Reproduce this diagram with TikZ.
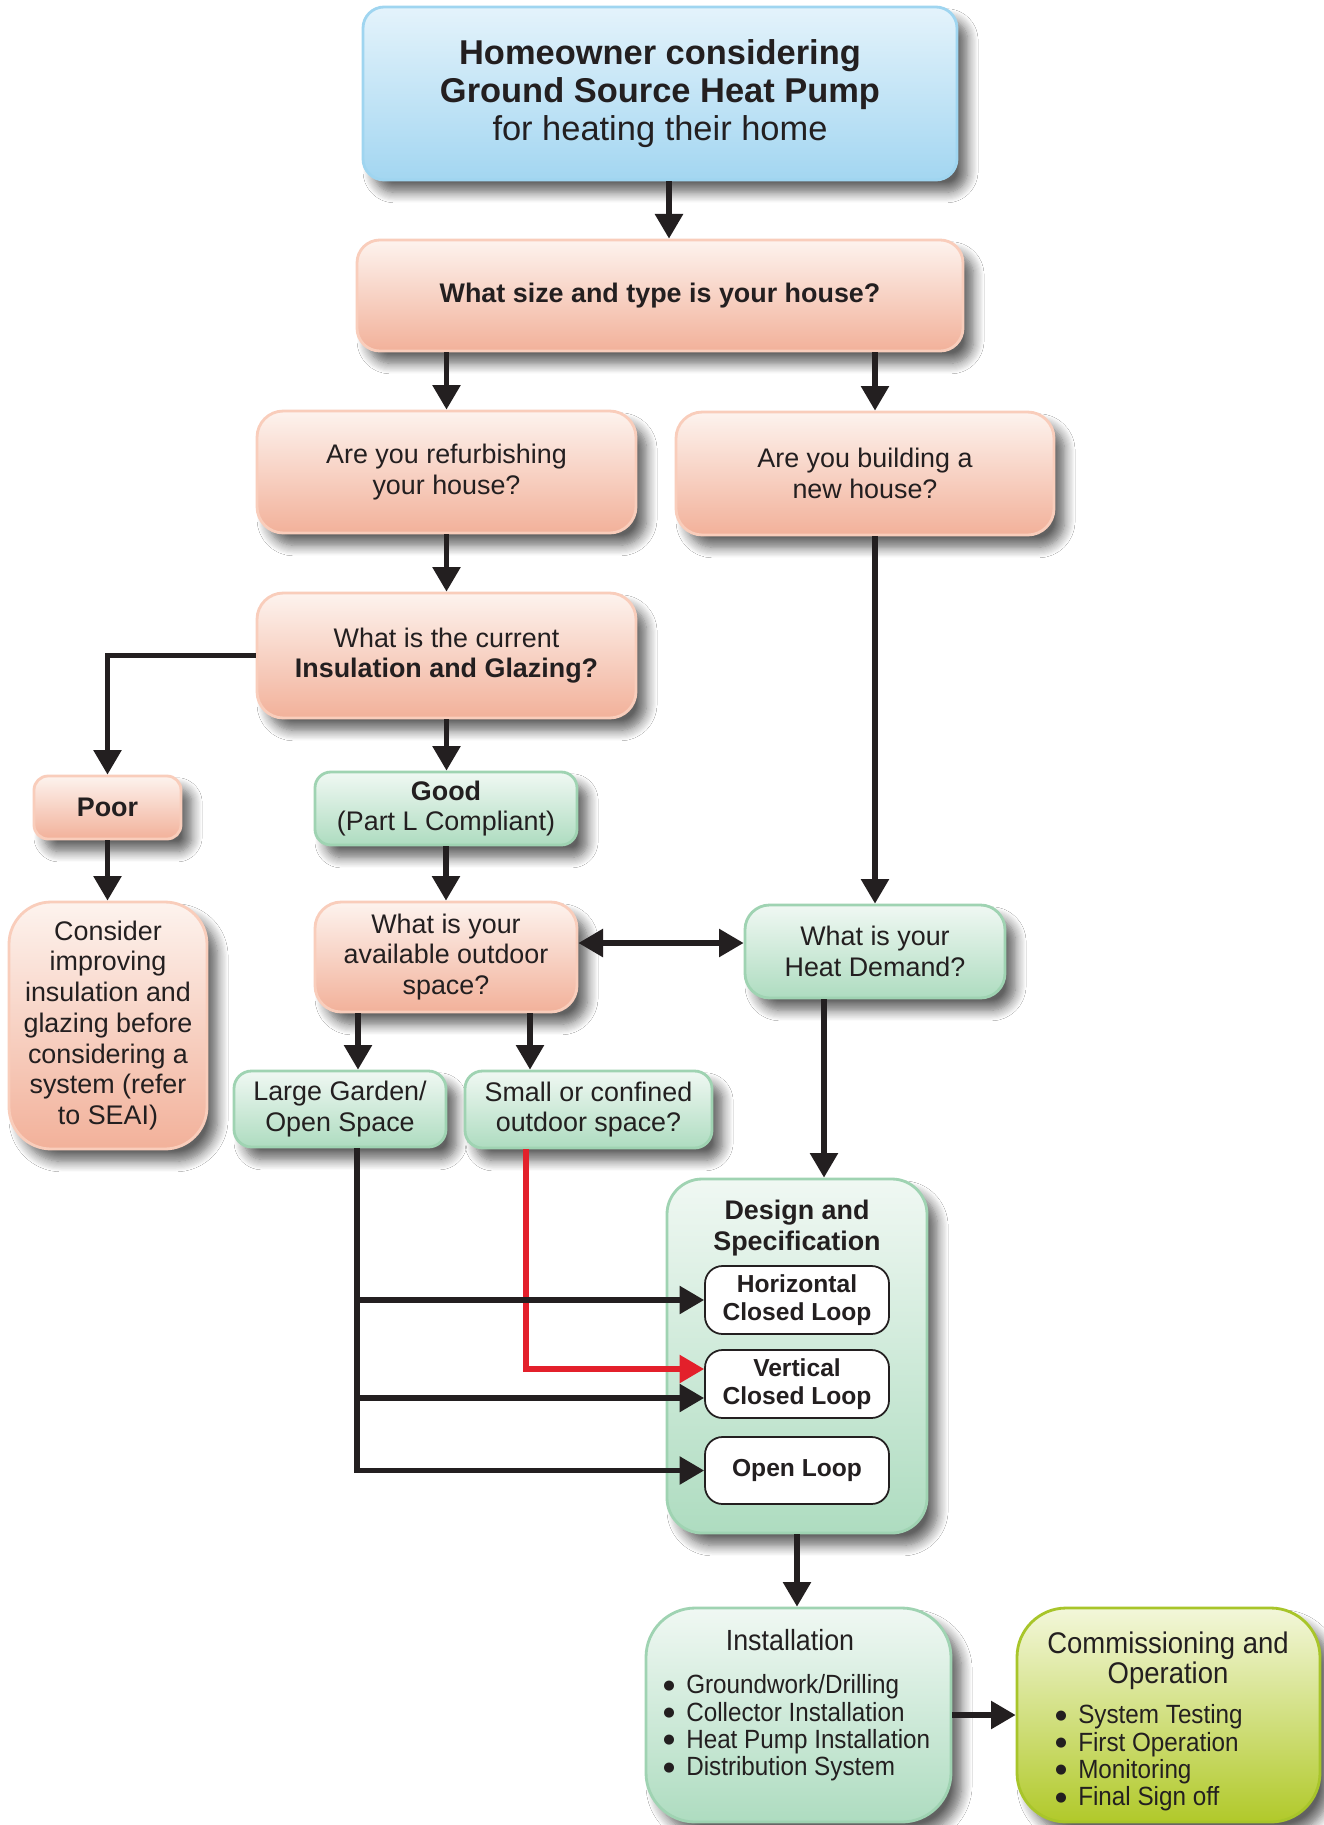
\documentclass[tikz,border=0pt]{standalone}
\usepackage{fontspec}
\setmainfont{Liberation Sans}
\newfontfamily\narrowfont[FakeStretch=0.92]{Liberation Sans}
\newfontfamily\dejavufont{DejaVu Sans}
\usetikzlibrary{arrows.meta,shadows.blur,calc}
\definecolor{ink}{HTML}{231F20}
\definecolor{bluetop}{HTML}{E4F3FB}
\definecolor{bluebot}{HTML}{A3D6F1}
\definecolor{blueline}{HTML}{9FD5F0}
\definecolor{saltop}{HTML}{FDF3EE}
\definecolor{salbot}{HTML}{F2B19A}
\definecolor{salline}{HTML}{F9CDBB}
\definecolor{gretop}{HTML}{F0F8F3}
\definecolor{grebot}{HTML}{AEDCC0}
\definecolor{greline}{HTML}{9FD3B2}
\definecolor{limtop}{HTML}{F3F7DA}
\definecolor{limbot}{HTML}{B1C92A}
\definecolor{limline}{HTML}{A8C52A}
\definecolor{arrowred}{HTML}{E3202B}
\newcommand{\bul}{\raisebox{2.6pt}{\dejavufont\fontsize{7.5}{0}\selectfont ●}\hspace{6.5pt}}
\tikzset{
  sz/.style 2 args={minimum width=#1*0.02cm, minimum height=#2*0.02cm},
  box/.style={rectangle, rounded corners=#1, line width=1.6pt, text=ink,
    align=center, inner sep=0pt,
    font=\fontsize{15.3}{17.5}\selectfont,
    blur shadow={shadow xshift=6pt, shadow yshift=-7pt, shadow blur steps=10,
      shadow opacity=62, shadow blur radius=6pt}},
  bluebox/.style={box=12pt, draw=blueline, top color=bluetop, bottom color=bluebot},
  salbox/.style={box=#1, draw=salline, top color=saltop, bottom color=salbot},
  salbox/.default=13pt,
  grebox/.style={box=#1, draw=greline, top color=gretop, bottom color=grebot},
  grebox/.default=10pt,
  limbox/.style={box=#1, draw=limline, top color=limtop, bottom color=limbot},
  whitebox/.style={rectangle, rounded corners=10pt, draw=ink, line width=1pt,
    fill=white, text=ink, align=center, inner sep=0pt,
    font=\fontsize{14}{16}\selectfont\bfseries},
  txt/.style={text=ink, inner sep=0pt},
  conn/.style={draw=ink, line width=2.9pt,
    -{Triangle[width=15.5pt,length=14pt]}},
  conn2/.style={draw=ink, line width=2.9pt,
    {Triangle[width=15.5pt,length=14pt]}-{Triangle[width=15.5pt,length=14pt]}},
  redconn/.style={draw=arrowred, line width=2.9pt,
    -{Triangle[width=15.5pt,length=14pt]}},
}
\begin{document}
\begin{tikzpicture}[x=0.02cm, y=-0.02cm]
\fill[white] (0,0) rectangle (1324,1825);
\useasboundingbox (0,0) rectangle (1324,1825);

% helper coordinates
\coordinate (xtop) at (669,0);
\coordinate (xl) at (358,0);
\coordinate (xs) at (530,0);
\coordinate (xh) at (824,0);
\coordinate (xr) at (526,0);
\coordinate (xg) at (357,0);
\coordinate (ydbl) at (0,943);
\coordinate (yr) at (0,1369);
\coordinate (yv) at (0,1398);

% nodes
\node[bluebox, sz={594}{173}, font=\fontsize{19.6}{21.8}\selectfont] (top) at (660,93.5)
  {\textbf{Homeowner considering}\\
   \textbf{Ground Source Heat Pump}\\
   for heating their home};
\node[salbox, sz={606}{111}] (size) at (660,295.5)
  {\textbf{What size and type is your house?}};
\node[salbox=15pt, sz={379}{122}] (refurb) at (446.5,472)
  {Are you refurbishing\\your house?};
\node[salbox=15pt, sz={378}{123}] (newh) at (865,473.5)
  {Are you building a\\new house?};
\node[salbox=15pt, sz={379}{125}] (insul) at (446.5,655.5)
  {What is the current\\\textbf{Insulation and Glazing?}};
\node[salbox=8pt, sz={147}{63}] (poor) at (107.5,807.5) {\textbf{Poor}};
\node[grebox=9pt, sz={262}{73}] (good) at (446,808.5)
  {\textbf{Good}\\(Part L Compliant)};
\node[salbox=24pt, sz={198}{247}] (consider) at (108,1025.5)
  {Consider\\improving\\insulation and\\glazing before\\considering a\\system (refer\\to SEAI)};
\node[salbox=15pt, sz={262}{110}] (outdoor) at (446,957)
  {What is your\\available outdoor\\space?};
\node[grebox=14pt, sz={260}{93}] (heat) at (875,951.5)
  {What is your\\Heat Demand?};
\node[grebox=10pt, sz={212}{76}] (large) at (340,1109)
  {Large Garden/\\Open Space};
\node[grebox=10pt, sz={247}{77}] (small) at (588.5,1109.5)
  {Small or confined\\outdoor space?};
\node[grebox=20pt, sz={260}{354}] (design) at (797,1356) {};
\node[txt, align=center, font=\fontsize{15.3}{17.5}\selectfont\bfseries] (designt) at (797,1228)
  {Design and\\Specification};
\node[whitebox, sz={184}{68}] (horiz) at (797,1300) {Horizontal\\Closed Loop};
\node[whitebox, sz={184}{68}] (vert) at (797,1384) {Vertical\\Closed Loop};
\node[whitebox, sz={184}{67}] (open) at (797,1470.5) {Open Loop};
\node[grebox=28pt, sz={305}{214}] (install) at (798.5,1715) {};
\node[txt, font=\narrowfont\fontsize{16.6}{17}\selectfont] (installt) at (790,1640) {Installation};
\node[txt, anchor=west, align=left, font=\narrowfont\fontsize{15}{15.6}\selectfont] (installl) at (663,1728)
  {\bul Groundwork/Drilling\\
   \bul Collector Installation\\
   \bul Heat Pump Installation\\
   \bul Distribution System};
\node[limbox=28pt, sz={303}{214}] (comm) at (1168.5,1715) {};
\node[txt, align=center, font=\narrowfont\fontsize{17}{17.3}\selectfont] (commt) at (1168,1661)
  {Commissioning and\\Operation};
\node[txt, anchor=west, align=left, font=\narrowfont\fontsize{15}{15.6}\selectfont] (comml) at (1055,1758)
  {\bul System Testing\\
   \bul First Operation\\
   \bul Monitoring\\
   \bul Final Sign off};

% connectors
\draw[conn] (top.south -| xtop) -- (size.north -| xtop);
\draw[conn] (size.south -| refurb.north) -- (refurb.north);
\draw[conn] (size.south -| heat.north) -- (newh.north -| heat.north);
\draw[conn] (refurb.south) -- (insul.north);
\draw[conn] (insul.west) -| (poor.north);
\draw[conn] (insul.south) -- (insul.south |- good.north);
\draw[conn] (poor.south) -- (poor.south |- consider.north);
\draw[conn] (good.south) -- (good.south |- outdoor.north);
\draw[conn] (newh.south -| heat.north) -- (heat.north);
\draw[conn2] (outdoor.east |- ydbl) -- (heat.west |- ydbl);
\draw[conn] (outdoor.south -| xl) -- (large.north -| xl);
\draw[conn] (outdoor.south -| xs) -- (small.north -| xs);
\draw[conn] (heat.south -| xh) -- (design.north -| xh);
\draw[redconn] (small.south -| xr) |- (vert.west |- yr);
\draw[conn] (large.south -| xg) |- (open.west);
\draw[conn] (xg |- horiz.west) -- (horiz.west);
\draw[conn] (xg |- yv) -- (vert.west |- yv);
\draw[conn] (design.south) -- (design.south |- install.north);
\draw[conn] (install.east) -- (comm.west);
\end{tikzpicture}
\end{document}
